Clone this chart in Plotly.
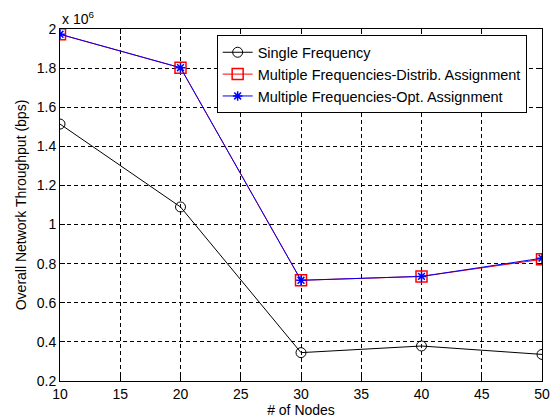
import plotly.graph_objects as go

nodes = [10, 20, 30, 40, 50]
single_freq = [1.514e6, 1.09e6, 0.345e6, 0.379e6, 0.336e6]
multi_distrib = [1.973e6, 1.802e6, 0.715e6, 0.735e6, 0.822e6]
multi_opt = [1.973e6, 1.802e6, 0.715e6, 0.735e6, 0.828e6]

y_ticks = [0.2e6, 0.4e6, 0.6e6, 0.8e6, 1.0e6, 1.2e6, 1.4e6, 1.6e6, 1.8e6, 2.0e6]
y_tick_text = ["0.2", "0.4", "0.6", "0.8", "1", "1.2", "1.4", "1.6", "1.8", "2"]
x_ticks = [10, 15, 20, 25, 30, 35, 40, 45, 50]

fig = go.Figure()
fig.add_trace(go.Scatter(x=nodes, y=single_freq, mode="lines+markers", name="Single Frequency",
                         line=dict(color="black", width=1),
                         marker=dict(symbol="circle-open", size=10, color="black", line=dict(width=1))))
fig.add_trace(go.Scatter(x=nodes, y=multi_distrib, mode="lines+markers",
                         name="Multiple Frequencies-Distrib. Assignment",
                         line=dict(color="red", width=1),
                         marker=dict(symbol="square-open", size=11, color="red", line=dict(width=1.5))))
fig.add_trace(go.Scatter(x=nodes, y=multi_opt, mode="lines+markers",
                         name="Multiple Frequencies-Opt. Assignment",
                         line=dict(color="blue", width=1),
                         marker=dict(symbol="asterisk-open", size=8, color="blue", line=dict(width=1.5, color="blue"))))

axis_common = dict(showline=True, linecolor="black", linewidth=1, mirror="ticks",
                   ticks="inside", ticklen=5, tickcolor="black",
                   showgrid=True, gridcolor="black", griddash="4px,3px", gridwidth=1,
                   zeroline=False, automargin=False, tickfont=dict(size=14, color="black"))

fig.update_layout(
    width=554, height=419,
    margin=dict(l=60, r=12, t=29, b=38),
    paper_bgcolor="white", plot_bgcolor="white",
    font=dict(family="Liberation Sans, Arial, sans-serif", size=14, color="black"),
    xaxis=dict(range=[10, 50], tickvals=x_ticks, title=dict(text="# of Nodes", standoff=3, font=dict(size=14)),
               **axis_common),
    yaxis=dict(range=[0.2e6, 2.0e6], tickvals=y_ticks, ticktext=y_tick_text,
               title=dict(text="Overall Network Throughput (bps)", standoff=6, font=dict(size=14)),
               **axis_common),
    legend=dict(x=0.325, y=0.982, xanchor="left", yanchor="top",
                bgcolor="white", bordercolor="black", borderwidth=1,
                font=dict(size=14.5), tracegroupgap=0, itemwidth=30),
    showlegend=True,
)
fig.add_annotation(text="x 10<sup>6</sup>", xref="paper", yref="paper", x=0, y=1.0,
                   xanchor="left", yanchor="bottom", showarrow=False, font=dict(size=14, color="black"))

fig.write_html("out.html", config={"displayModeBar": False},
               post_script="document.body.style.margin='0';document.body.style.overflow='hidden';")
